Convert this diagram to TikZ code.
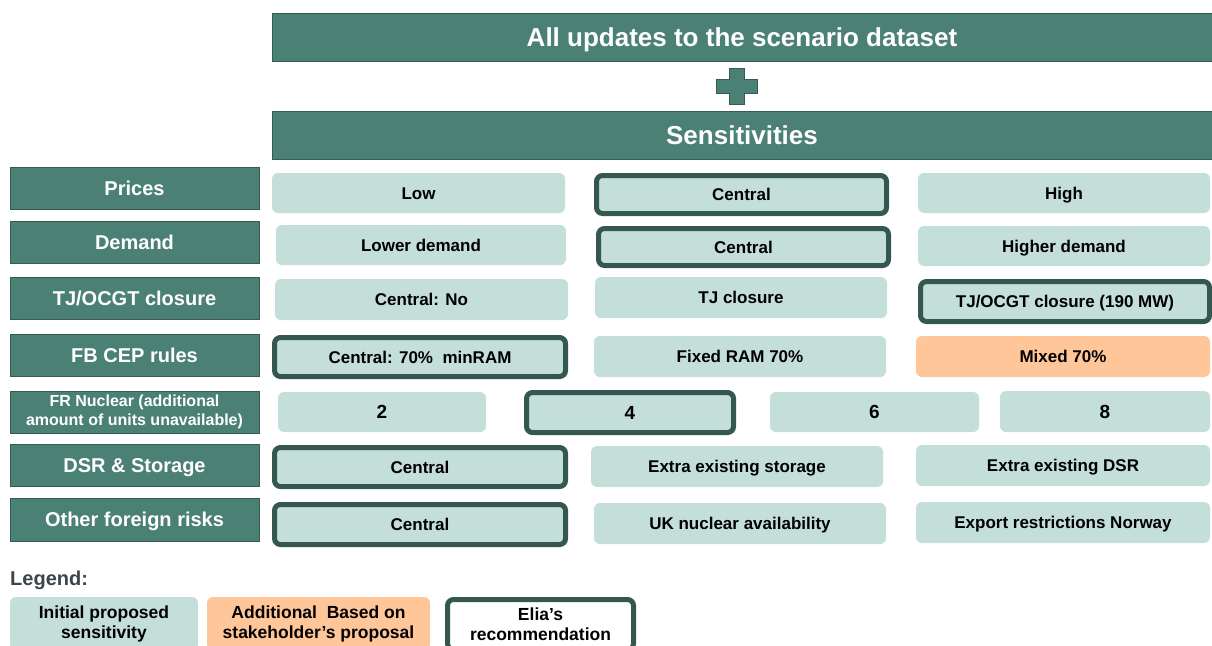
\documentclass[tikz,border=0pt]{standalone}
\usepackage{fontspec}
\setmainfont{Liberation Sans}
\definecolor{teal1}{RGB}{75,128,116}
\definecolor{tealedge}{RGB}{52,92,82}
\definecolor{light}{RGB}{196,223,217}
\definecolor{thickedge}{RGB}{52,87,79}
\definecolor{orng}{RGB}{255,199,153}
\definecolor{legtext}{RGB}{58,70,76}
\tikzset{
  hdr/.style={fill=teal1, draw=tealedge, line width=0.8pt, text=white, font=\bfseries\fontsize{26}{30}\selectfont, inner sep=0pt, outer sep=0pt, text height=18.6pt, text depth=0pt},
  lab/.style={fill=teal1, draw=tealedge, line width=0.8pt, text=white, font=\bfseries\fontsize{20}{22}\selectfont, inner sep=0pt, outer sep=0pt, align=center},
  labone/.style={lab, text height=14.3pt, text depth=0pt},
  opt/.style={fill=light, rounded corners=6pt, font=\bfseries\fontsize{17}{19}\selectfont, inner sep=0pt, outer sep=0pt, align=center},
  one/.style={text height=12.2pt, text depth=0pt},
  big/.style={font=\bfseries\fontsize{19}{21}\selectfont, text height=13.6pt, text depth=0pt},
  rec/.style={opt, draw=thickedge, line width=5pt},
  add/.style={opt, fill=orng},
  legfont/.style={font=\bfseries\fontsize{17.5}{20}\selectfont},
}
% name, x1, y1, x2, y2, style, text
\newcommand\bx[7]{\node[#6, minimum width={#4-#2}, minimum height={#5-#3}] (#1) at ({(#2+#4)/2},{(#3+#5)/2}) {#7};}
% thick-bordered: outer extents given, path inset by half line width
\newcommand\tbx[7]{\node[#6, minimum width={#4-#2-5}, minimum height={#5-#3-5}] (#1) at ({(#2+#4)/2},{(#3+#5)/2}) {#7};}
\begin{document}
\begin{tikzpicture}[x=1pt,y=-1pt]
\useasboundingbox (0,0) rectangle (1212,645);
% headers
\bx{top}{272}{13}{1212}{61}{hdr}{All updates to the scenario dataset}
\bx{sens}{272}{111}{1212}{159}{hdr}{Sensitivities}
\draw[fill=teal1, draw=tealedge, line width=0.8pt]
  (729,68) -- (744,68) -- (744,79) -- (757,79) -- (757,93) -- (744,93) -- (744,104)
  -- (729,104) -- (729,93) -- (716,93) -- (716,79) -- (729,79) -- cycle;
% row labels
\bx{lprices}{10}{167}{259}{209}{labone}{Prices}
\bx{ldemand}{10}{221}{259}{263}{labone}{Demand}
\bx{ltj}{10}{277}{259}{319}{labone}{TJ/OCGT closure}
\bx{lfb}{10}{334}{259}{376}{labone}{FB CEP rules}
\bx{lfr}{10}{391}{259}{433}{lab,font=\bfseries\fontsize{16}{19}\selectfont}{FR Nuclear (additional\\amount of units unavailable)}
\bx{ldsr}{10}{444}{259}{486}{labone}{DSR \& Storage}
\bx{lother}{10}{498}{259}{541}{labone}{Other foreign risks}
% prices
\bx{p1}{272}{173}{565}{213}{opt,one}{Low}
\tbx{p2}{594}{173}{889}{216}{rec,one}{Central}
\bx{p3}{918}{173}{1210}{213}{opt,one}{High}
% demand
\bx{d1}{276}{225}{566}{265}{opt,one}{Lower demand}
\tbx{d2}{596}{226}{891}{268}{rec,one}{Central}
\bx{d3}{918}{226}{1210}{266}{opt,one}{Higher demand}
% TJ
\bx{t1}{275}{279}{568}{320}{opt,one}{Central: No}
\bx{t2}{595}{277}{887}{318}{opt,one}{TJ closure}
\tbx{t3}{918}{279}{1212}{324}{rec,one}{TJ/OCGT closure (190 MW)}
% FB
\tbx{f1}{272}{335}{568}{379}{rec,one}{Central: 70\%\ \ minRAM}
\bx{f2}{594}{336}{886}{377}{opt,one}{Fixed RAM 70\%}
\bx{f3}{916}{336}{1210}{377}{add,one}{Mixed 70\%}
% FR nuclear
\bx{n1}{278}{392}{486}{432}{opt,big}{2}
\tbx{n2}{524}{390}{736}{435}{rec,big}{4}
\bx{n3}{770}{392}{979}{432}{opt,big}{6}
\bx{n4}{1000}{391}{1210}{432}{opt,big}{8}
% DSR
\tbx{s1}{272}{445}{568}{489}{rec,one}{Central}
\bx{s2}{591}{446}{883}{487}{opt,one}{Extra existing storage}
\bx{s3}{916}{445}{1210}{486}{opt,one}{Extra existing DSR}
% Other
\tbx{o1}{272}{502}{568}{547}{rec,one}{Central}
\bx{o2}{594}{503}{886}{544}{opt,one}{UK nuclear availability}
\bx{o3}{916}{502}{1210}{543}{opt,one}{Export restrictions Norway}
% legend
\node[anchor=west, text=legtext, font=\bfseries\fontsize{20}{22}\selectfont, inner sep=0pt] (legend) at (10,580) {Legend:};
\bx{lg1}{10}{597}{198}{650}{opt,legfont}{Initial proposed\\sensitivity}
\bx{lg2}{207}{597}{430}{650}{add,legfont}{Additional\ \ Based on\\stakeholder’s proposal}
\tbx{lg3}{445}{597}{636}{652}{rec,fill=white,legfont}{Elia’s\\recommendation}
\end{tikzpicture}
\end{document}
